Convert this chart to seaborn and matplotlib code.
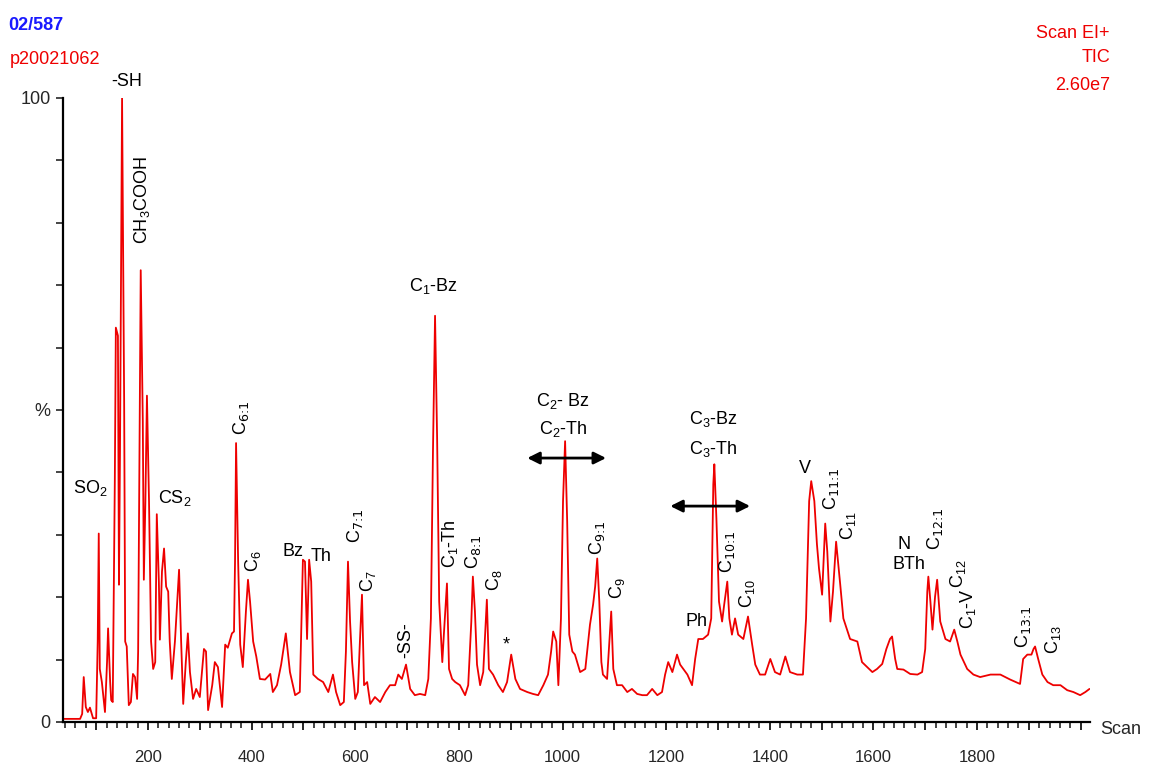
import matplotlib
matplotlib.use("Agg")
import matplotlib.pyplot as plt
from matplotlib.ticker import MultipleLocator, FixedLocator, FuncFormatter
import seaborn as sns
import pandas as pd

# ---- data (scan number, % of 2.60e7 TIC) ----
scan = [36, 69, 73, 76, 80, 84, 88, 94, 100, 103, 105, 107, 111, 117, 121, 123, 127, 129, 132,
        136, 138, 142, 144, 146, 150, 154, 156, 159, 163, 167, 171, 175, 179, 181, 186, 190, 192,
        195, 198, 202, 206, 210, 214, 217, 221, 223, 227, 231, 235, 239, 242, 246, 252, 260, 264,
        268, 273, 277, 281, 287, 293, 300, 308, 312, 316, 324, 329, 335, 343, 349, 354, 362, 366,
        368, 370, 374, 378, 383, 389, 393, 397, 403, 409, 416, 426, 436, 441, 449, 457, 466, 474,
        484, 493, 497, 499, 503, 507, 511, 515, 519, 528, 538, 548, 557, 563, 571, 578, 582, 586,
        590, 594, 600, 605, 609, 613, 617, 623, 629, 638, 648, 658, 667, 677, 683, 690, 698, 706,
        715, 725, 735, 741, 746, 750, 754, 758, 762, 768, 771, 777, 781, 787, 793, 802, 812, 818,
        824, 827, 831, 835, 841, 847, 851, 854, 858, 866, 876, 885, 893, 901, 909, 918, 932, 943,
        953, 963, 972, 978, 982, 988, 992, 997, 1001, 1005, 1009, 1013, 1019, 1024, 1034, 1044,
        1053, 1059, 1063, 1067, 1071, 1075, 1078, 1086, 1094, 1098, 1105, 1115, 1125, 1134, 1144,
        1154, 1163, 1173, 1183, 1192, 1198, 1204, 1212, 1221, 1227, 1241, 1250, 1256, 1262, 1271,
        1281, 1287, 1291, 1293, 1297, 1302, 1308, 1312, 1318, 1322, 1327, 1333, 1339, 1349, 1358,
        1366, 1372, 1381, 1391, 1401, 1410, 1420, 1430, 1439, 1453, 1464, 1470, 1476, 1480, 1486,
        1491, 1495, 1501, 1507, 1511, 1517, 1522, 1528, 1536, 1542, 1555, 1569, 1578, 1588, 1598,
        1607, 1617, 1625, 1632, 1636, 1642, 1646, 1658, 1671, 1685, 1694, 1700, 1704, 1706, 1710,
        1714, 1719, 1723, 1729, 1739, 1748, 1756, 1762, 1768, 1781, 1793, 1806, 1826, 1845, 1864,
        1883, 1889, 1897, 1905, 1909, 1912, 1918, 1926, 1936, 1947, 1961, 1974, 1986, 1999, 2009,
        2017]
pct = [0.5, 0.5, 1.3, 7.2, 2.4, 1.6, 2.3, 0.6, 0.6, 12.9, 30.2, 8.5, 6.4, 1.6, 9.6, 15.0, 6.4, 3.5, 3.2,
       38.6, 63.2, 61.9, 22.0, 43.4, 100.0, 51.5, 12.9, 12.1, 2.7, 3.2, 7.7, 7.2, 3.7, 11.3, 72.4, 48.2, 22.8,
       35.4, 52.3, 35.4, 12.9, 8.5, 9.6, 33.3, 22.5, 13.2, 24.1, 27.8, 21.7, 20.9, 12.9, 6.9, 12.9, 24.4, 12.9,
       2.9, 9.6, 14.2, 8.0, 3.7, 5.3, 4.0, 11.7, 11.3, 1.9, 5.9, 9.6, 8.8, 2.4, 12.4, 11.9, 14.2, 14.5,
       25.7, 44.7, 25.7, 12.4, 8.8, 17.7, 22.8, 19.3, 12.9, 10.5, 6.9, 6.8, 7.7, 4.8, 5.9, 9.2, 14.2, 8.0,
       4.3, 4.8, 19.3, 26.0, 25.7, 13.3, 26.0, 22.5, 7.6, 6.9, 6.4, 4.8, 7.6, 4.8, 2.7, 3.2, 11.3, 25.7,
       16.1, 9.6, 3.7, 4.8, 12.9, 20.4, 5.9, 6.4, 2.9, 4.0, 3.2, 4.8, 5.9, 5.9, 7.6, 6.9, 9.2, 5.3,
       4.3, 4.5, 4.3, 6.9, 16.6, 43.4, 65.1, 45.5, 19.3, 9.6, 14.0, 22.2, 8.5, 6.9, 6.4, 5.9, 4.3, 5.9,
       16.1, 23.3, 17.7, 9.2, 5.9, 8.0, 14.5, 19.6, 8.5, 7.6, 5.9, 4.8, 6.4, 10.8, 6.9, 5.3, 4.8, 4.5,
       4.3, 5.9, 7.6, 11.3, 14.5, 12.9, 5.9, 16.6, 35.4, 45.0, 32.2, 14.0, 11.3, 10.8, 8.0, 8.5,
       15.6, 18.8, 21.7, 26.2, 19.3, 9.6, 7.6, 6.9, 17.7, 8.5, 5.9, 5.9, 4.8, 5.3, 4.5,
       4.3, 4.3, 5.3, 4.3, 4.8, 7.6, 9.6, 8.0, 10.8, 9.2, 7.6, 5.9, 10.1, 13.3, 13.3,
       14.0, 16.6, 38.1, 41.3, 32.6, 19.3, 16.1, 18.8, 22.5, 16.6, 14.0, 16.6, 14.0, 13.3, 16.9,
       12.4, 9.2, 7.6, 7.6, 10.1, 8.0, 7.6, 10.5, 8.0, 7.6, 7.6, 16.6, 35.4, 38.6, 35.4,
       28.5, 24.6, 20.4, 31.8, 27.3, 16.1, 20.9, 28.9, 22.0, 16.6, 13.3, 12.9, 9.6, 8.8, 8.0,
       8.5, 9.3, 11.7, 13.3, 13.7, 10.1, 8.5, 8.4, 7.7, 7.6, 8.0, 11.7, 20.9, 23.3, 19.3,
       14.8, 20.1, 22.8, 16.1, 13.3, 12.9, 14.8, 12.9, 10.8, 8.5, 7.6, 7.2, 7.6, 7.6, 6.8,
       6.1, 10.1, 10.8, 10.8, 11.7, 12.1, 10.1, 7.6, 6.4, 5.9, 5.9, 5.1, 4.8, 4.3, 4.8,
       5.3]

# peak labels: (text, scan, %, rotation)
peak_labels = [
    (r"SO$_2$", 88, 37.5, 0), (r"-SH", 158, 102.6, 0), (r"CH$_3$COOH", 188, 83.6, 90),
    (r"CS$_2$", 252, 35.9, 0), (r"C$_{\text{6:1}}$", 380, 48.8, 90), (r"C$_6$", 403, 25.8, 90),
    (r"Bz", 480, 27.3, 0), (r"Th", 534, 26.6, 0), (r"C$_{\text{7:1}}$", 600, 31.5, 90),
    (r"C$_7$", 625, 22.5, 90), (r"-SS-", 697, 13.2, 90), (r"C$_1$-Bz", 750, 69.9, 0),
    (r"C$_1$-Th", 782, 28.5, 90), (r"C$_{\text{8:1}}$", 828, 27.3, 90), (r"C$_8$", 867, 22.8, 90),
    (r"*", 891, 12.4, 0), (r"C$_2$- Bz", 1001, 51.5, 0), (r"C$_2$-Th", 1001, 47.0, 0),
    (r"C$_{\text{9:1}}$", 1067, 29.5, 90), (r"C$_9$", 1106, 21.4, 90), (r"Ph", 1258, 16.1, 0),
    (r"C$_3$-Bz", 1291, 48.6, 0), (r"C$_3$-Th", 1291, 43.7, 0), (r"C$_{\text{10:1}}$", 1318, 27.3, 90),
    (r"C$_{10}$", 1356, 20.6, 90), (r"V", 1467, 40.7, 0), (r"C$_{\text{11:1}}$", 1518, 37.3, 90),
    (r"C$_{11}$", 1551, 31.4, 90), (r"N", 1660, 28.4, 0), (r"BTh", 1668, 25.2, 0),
    (r"C$_{\text{12:1}}$", 1719, 31.0, 90), (r"C$_{12}$", 1764, 23.8, 90), (r"C$_1$-V", 1783, 18.2, 90),
    (r"C$_{\text{13:1}}$", 1889, 15.3, 90), (r"C$_{13}$", 1947, 13.2, 90),
]
# double-headed range arrows: (scan start, scan end, %)
range_arrows = [(932, 1084, 42.3), (1208, 1362, 34.6)]

x_major = list(range(100, 2001, 100))
x_labels = [200, 400, 600, 800, 1000, 1200, 1400, 1600, 1800]
y_ticks = list(range(0, 101, 10))
y_labels = {0: "0", 50: "%", 100: "100"}

# ---- drawing ----
sns.set_style("ticks")
plt.rcParams["font.family"] = ["Liberation Sans", "DejaVu Sans"]
plt.rcParams["mathtext.default"] = "regular"

fig = plt.figure(figsize=(11.52, 7.65), dpi=100)
ax = fig.add_axes([63 / 1152, 1 - 722 / 765, (1090 - 63) / 1152, (722 - 98) / 765])

df = pd.DataFrame({"Scan": scan, "pct": pct})
sns.lineplot(data=df, x="Scan", y="pct", color="#ee0000", linewidth=1.3, ax=ax, sort=False)

ax.set_xlim(36, 2018)
ax.set_ylim(0, 100)
sns.despine(ax=ax)
for s in ("left", "bottom"):
    ax.spines[s].set_linewidth(1.6)
    ax.spines[s].set_color("black")

ax.xaxis.set_major_locator(FixedLocator(x_major))
ax.xaxis.set_minor_locator(MultipleLocator(20))
ax.xaxis.set_major_formatter(FuncFormatter(lambda v, p: str(int(v)) if int(round(v)) in x_labels else ""))
ax.yaxis.set_major_locator(FixedLocator(y_ticks))
ax.yaxis.set_major_formatter(FuncFormatter(lambda v, p: y_labels.get(int(round(v)), "")))
ax.tick_params(axis="x", which="major", length=6, width=1.4, labelsize=12, pad=14)
ax.tick_params(axis="x", which="minor", length=4, width=1.2)
ax.tick_params(axis="y", which="major", length=5, width=1.2, labelsize=13, pad=4)
ax.set_xlabel("")
ax.set_ylabel("")

for txt, x, y, rot in peak_labels:
    ax.text(x, y, txt, rotation=rot, ha="center", va="center", fontsize=13,
            color="black", clip_on=False)

for x0, x1, y in range_arrows:
    ax.annotate("", xy=(x0, y), xytext=(x1, y),
                arrowprops=dict(arrowstyle="<|-|>", color="black", lw=2,
                                mutation_scale=18, shrinkA=0, shrinkB=0))

fig.text(1100 / 1152, 1 - 730 / 765, "Scan", fontsize=13, ha="left", va="center")
fig.text(8 / 1152, 1 - 25 / 765, "02/587", fontsize=13, color="#1a1aff", ha="left",
         va="center", fontweight="bold")
fig.text(10 / 1152, 1 - 60 / 765, "p20021062", fontsize=13, color="#ee0000", ha="left", va="center")
fig.text(1110 / 1152, 1 - 33 / 765, "Scan EI+", fontsize=13, color="#ee0000", ha="right", va="center")
fig.text(1110 / 1152, 1 - 58 / 765, "TIC", fontsize=13, color="#ee0000", ha="right", va="center")
fig.text(1110 / 1152, 1 - 85 / 765, "2.60e7", fontsize=13, color="#ee0000", ha="right", va="center")

fig.savefig("out.png", dpi=100)
